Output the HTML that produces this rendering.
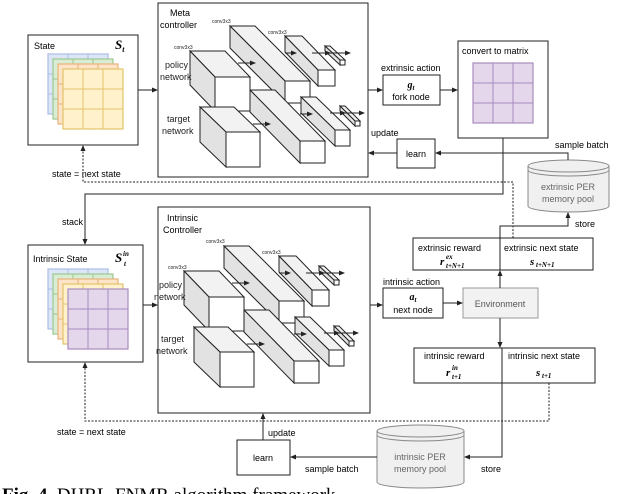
<!DOCTYPE html>
<html><head><meta charset="utf-8"><style>
html,body{margin:0;padding:0;background:#fff;width:618px;height:494px;overflow:hidden}
svg{display:block;font-family:"Liberation Sans",sans-serif}
</style></head><body>
<svg width="618" height="494" viewBox="0 0 618 494" xmlns="http://www.w3.org/2000/svg">
<defs>
<marker id="a" markerWidth="6" markerHeight="6" refX="5" refY="3" orient="auto" markerUnits="userSpaceOnUse"><path d="M0,0.5 L6,3 L0,5.5 z" fill="#222"/></marker>
<g id="grid">
<rect x="0" y="0" width="60" height="60" stroke-width="1.2"/>
<line x1="20" y1="0" x2="20" y2="60"/><line x1="40" y1="0" x2="40" y2="60"/>
<line x1="0" y1="20" x2="60" y2="20"/><line x1="0" y1="40" x2="60" y2="40"/>
</g>
<g id="net" stroke="#222" stroke-width="1">
<polygon points="230,26 255,26 310,81 285,81" fill="#f2f2f2"/>
<polygon points="230,26 285,81 285,103 230,48" fill="#e2e2e2"/>
<rect x="285" y="81" width="25" height="22" fill="#fff"/>
<polygon points="285,36 302,36 335,70 318,70" fill="#f2f2f2"/>
<polygon points="285,36 318,70 318,86 285,52" fill="#e2e2e2"/>
<rect x="318" y="70" width="17" height="16" fill="#fff"/>
<polygon points="325,46 330,46 345,60 340,60" fill="#f2f2f2"/>
<polygon points="325,46 340,60 340,65 325,51" fill="#e2e2e2"/>
<rect x="340" y="60" width="5" height="5" fill="#fff"/>
<polygon points="250,90 275,90 325,141 300,141" fill="#f2f2f2"/>
<polygon points="250,90 300,141 300,163 250,112" fill="#e2e2e2"/>
<rect x="300" y="141" width="25" height="22" fill="#fff"/>
<polygon points="301,97 316,97 350,130 335,130" fill="#f2f2f2"/>
<polygon points="301,97 335,130 335,146 301,113" fill="#e2e2e2"/>
<rect x="335" y="130" width="15" height="16" fill="#fff"/>
<polygon points="340,106 345,106 360,121 355,121" fill="#f2f2f2"/>
<polygon points="340,106 355,121 355,126 340,111" fill="#e2e2e2"/>
<rect x="355" y="121" width="5" height="5" fill="#fff"/>
<polygon points="190,51 225,51 250,77 215,77" fill="#f2f2f2"/>
<polygon points="190,51 215,77 215,111 190,85" fill="#e2e2e2"/>
<rect x="215" y="77" width="35" height="34" fill="#fff"/>
<polygon points="200,107 234,107 260,132 226,132" fill="#f2f2f2"/>
<polygon points="200,107 226,132 226,167 200,142" fill="#e2e2e2"/>
<rect x="226" y="132" width="34" height="35" fill="#fff"/>
<line x1="238" y1="63" x2="255" y2="63" marker-end="url(#a)"/>
<line x1="253" y1="124" x2="270" y2="124" marker-end="url(#a)"/>
<line x1="285" y1="53" x2="296" y2="53" marker-end="url(#a)"/>
<line x1="312" y1="53" x2="330" y2="53" marker-end="url(#a)"/>
<line x1="330" y1="53" x2="350" y2="53" marker-end="url(#a)"/>
<line x1="300" y1="114" x2="312" y2="114" marker-end="url(#a)"/>
<line x1="330" y1="113" x2="345" y2="113" marker-end="url(#a)"/>
<line x1="345" y1="113" x2="364" y2="113" marker-end="url(#a)"/>
<g stroke="none" fill="#222" font-size="5">
<text x="174" y="49">conv3x3</text>
<text x="212" y="23">conv3x3</text>
<text x="268" y="34">conv3x3</text>
</g>
<g stroke="none" fill="#222" font-size="9">
<text x="165" y="68">policy</text><text x="160" y="80">network</text>
<text x="167" y="122">target</text><text x="162" y="134">network</text>
</g>
</g>
</defs>

<g stroke="#222" stroke-width="1" fill="none">
<rect x="158" y="3" width="210" height="174" fill="#fff"/>
<rect x="28" y="35" width="110" height="110" fill="#fff"/>
<rect x="158" y="207" width="212" height="206" fill="#fff"/>
<rect x="28" y="245" width="115" height="117" fill="#fff"/>
</g>
<text x="170" y="16" font-size="9">Meta</text><text x="160" y="28" font-size="9">controller</text>
<use href="#net"/>
<text x="167" y="221" font-size="9">Intrinsic</text><text x="163" y="233" font-size="9">Controller</text>
<use href="#net" transform="translate(-6,220)"/>

<g transform="translate(48,54)" fill="#dde6f7" stroke="#a9bde6"><use href="#grid"/></g>
<g transform="translate(53,59)" fill="#d9ecd4" stroke="#9cc991"><use href="#grid"/></g>
<g transform="translate(58,64)" fill="#fde3c8" stroke="#e8b27c"><use href="#grid"/></g>
<g transform="translate(63,69)" fill="#fff1cc" stroke="#e3c46a"><use href="#grid"/></g>
<text x="34" y="49" font-size="9">State</text>
<text x="115" y="49" font-size="13" font-style="italic" font-weight="bold" font-family="Liberation Serif,serif">S<tspan font-size="8" dy="3">t</tspan></text>

<g transform="translate(48,269)" fill="#dde6f7" stroke="#a9bde6"><use href="#grid"/></g>
<g transform="translate(53,274)" fill="#d9ecd4" stroke="#9cc991"><use href="#grid"/></g>
<g transform="translate(58,279)" fill="#fde3c8" stroke="#e8b27c"><use href="#grid"/></g>
<g transform="translate(63,284)" fill="#fff1cc" stroke="#e3c46a"><use href="#grid"/></g>
<g transform="translate(68,289)" fill="#e4d7ec" stroke="#a98bbf"><use href="#grid"/></g>
<text x="33" y="262" font-size="9">Intrinsic State</text>
<g font-style="italic" font-weight="bold" font-family="Liberation Serif,serif">
<text x="115" y="262" font-size="13">S</text>
<text x="124" y="266" font-size="7">t</text>
<text x="123" y="256" font-size="7">in</text>
</g>

<g stroke="#222" stroke-width="1" fill="#fff">
<rect x="383" y="75" width="57" height="30"/>
<rect x="458" y="41" width="90" height="97"/>
<rect x="397" y="139" width="38" height="29"/>
<rect x="383" y="288" width="60" height="30"/>
<rect x="463" y="288" width="75" height="30" fill="#f2f2f2" stroke="#999"/>
<rect x="413" y="238" width="180" height="32"/>
<line x1="500" y1="238" x2="500" y2="270"/>
<rect x="414" y="348" width="181" height="35"/>
<line x1="502" y1="348" x2="502" y2="383"/>
<rect x="237" y="440" width="53" height="35"/>
</g>
<g transform="translate(473,63)" fill="#e4d7ec" stroke="#a98bbf"><use href="#grid"/></g>
<text x="462" y="54" font-size="9">convert to matrix</text>
<text x="381" y="71" font-size="9">extrinsic action</text>
<text x="411" y="88" font-size="10" font-style="italic" font-weight="bold" text-anchor="middle" font-family="Liberation Serif,serif">g<tspan font-size="7" dy="2">t</tspan></text>
<text x="411" y="100" font-size="9" text-anchor="middle">fork node</text>
<text x="416" y="157" font-size="9" text-anchor="middle">learn</text>
<text x="371" y="136" font-size="9">update</text>
<text x="555" y="148" font-size="9">sample batch</text>

<g stroke="#888" fill="#f0f0f0">
<path d="M528,166 L528,206 A40.5,6 0 0 0 609,206 L609,166"/>
<ellipse cx="568.5" cy="166" rx="40.5" ry="6"/>
<path d="M528,170 A40.5,6 0 0 0 609,170" fill="none"/>
<path d="M377,431 L377,482 A43.5,6 0 0 0 464,482 L464,431"/>
<ellipse cx="420.5" cy="431" rx="43.5" ry="6"/>
<path d="M377,435 A43.5,6 0 0 0 464,435" fill="none"/>
</g>
<g font-size="9" fill="#666" text-anchor="middle">
<text x="568" y="190">extrinsic PER</text><text x="568" y="202">memory pool</text>
<text x="420" y="460">intrinsic PER</text><text x="420" y="472">memory pool</text>
</g>

<g font-size="9">
<text x="418" y="251">extrinsic reward</text>
<text x="504" y="251">extrinsic next state</text>
<text x="383" y="285">intrinsic action</text>
<text x="413" y="300" font-size="10" font-style="italic" font-weight="bold" text-anchor="middle" font-family="Liberation Serif,serif">a<tspan font-size="7" dy="2">t</tspan></text>
<text x="413" y="313" text-anchor="middle">next node</text>
<text x="500" y="307" text-anchor="middle" fill="#555">Environment</text>
<text x="424" y="359">intrinsic reward</text>
<text x="508" y="359">intrinsic next state</text>
<text x="263" y="461" text-anchor="middle">learn</text>
<text x="268" y="436">update</text>
<text x="305" y="472">sample batch</text>
<text x="481" y="472">store</text>
<text x="575" y="227">store</text>
<text x="52" y="177">state = next state</text>
<text x="57" y="435">state = next state</text>
<text x="62" y="225">stack</text>
</g>
<g font-family="Liberation Serif,serif" font-style="italic" font-weight="bold">
<text x="440" y="265" font-size="11">r</text>
<text x="446" y="268" font-size="7">t+N+1</text>
<text x="446" y="259" font-size="7">ex</text>
<text x="530" y="265" font-size="11">s</text>
<text x="536" y="267" font-size="7">t+N+1</text>
<text x="446" y="376" font-size="11">r</text>
<text x="452" y="379" font-size="7">t+1</text>
<text x="452" y="370" font-size="7">in</text>
<text x="536" y="376" font-size="11">s</text>
<text x="542" y="378" font-size="7">t+1</text>
</g>

<g stroke="#222" stroke-width="1" fill="none">
<line x1="138" y1="90" x2="157" y2="90" marker-end="url(#a)"/>
<line x1="368" y1="90" x2="382" y2="90" marker-end="url(#a)"/>
<line x1="440" y1="90" x2="457" y2="90" marker-end="url(#a)"/>
<line x1="397" y1="153" x2="369" y2="153" marker-end="url(#a)"/>
<polyline points="568,160 568,153 436,153" marker-end="url(#a)"/>
<polyline points="503,138 503,194 85,194 85,244" marker-end="url(#a)"/>
<polyline points="513,238 513,182 83,182 83,146" stroke-dasharray="2,1.5" marker-end="url(#a)"/>
<line x1="143" y1="305" x2="157" y2="305" marker-end="url(#a)"/>
<line x1="370" y1="305" x2="382" y2="305" marker-end="url(#a)"/>
<line x1="443" y1="303" x2="462" y2="303" marker-end="url(#a)"/>
<line x1="500" y1="288" x2="500" y2="271" marker-end="url(#a)"/>
<polyline points="500,238 500,226 568,226 568,213" marker-end="url(#a)"/>
<line x1="500" y1="318" x2="500" y2="347" marker-end="url(#a)"/>
<polyline points="502,383 502,457 465,457" marker-end="url(#a)"/>
<line x1="377" y1="457" x2="291" y2="457" marker-end="url(#a)"/>
<line x1="263" y1="440" x2="263" y2="414" marker-end="url(#a)"/>
<polyline points="549,383 549,421 85,421 85,363" stroke-dasharray="2,1.5" marker-end="url(#a)"/>
</g>

<text x="2" y="501" font-family="Liberation Serif,serif" font-size="19"><tspan font-weight="bold">Fig. 4.</tspan> DHRL-FNMR algorithm framework</text>
</svg>
</body></html>
